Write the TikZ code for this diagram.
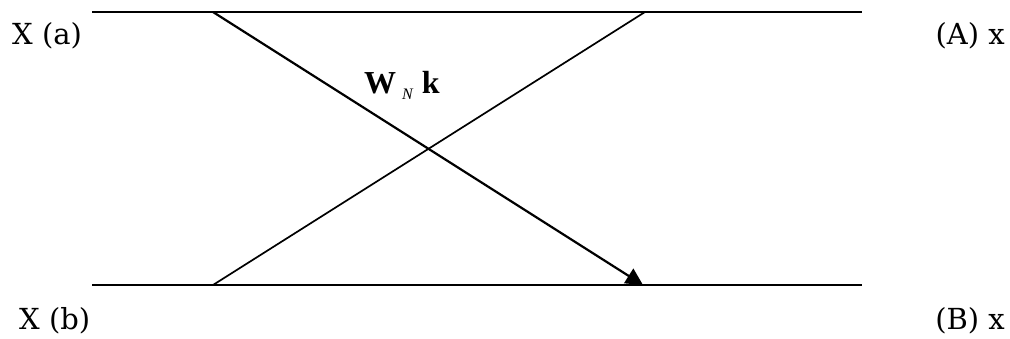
\documentclass[tikz,border=0pt]{standalone}
\usepackage{fontspec}
\setmainfont{DejaVu Serif}
\newfontfamily\timesfont{Liberation Serif}
\usetikzlibrary{arrows.meta}
\begin{document}
\begin{tikzpicture}[x=1pt,y=-1pt,
  line/.style={line width=2.2pt},
  lbl/.style={font=\fontsize{29}{29}\selectfont, inner sep=0pt}]
\useasboundingbox (0,0) rectangle (1010,339);
\coordinate (tl) at (92,12);
\coordinate (tr) at (862,12);
\coordinate (bl) at (92,285);
\coordinate (br) at (862,285);
\coordinate (a1) at (213,12);
\coordinate (a2) at (643,285);
\coordinate (b1) at (213,285);
\coordinate (b2) at (645,12);
\draw[line] (tl) -- (tr);
\draw[line] (bl) -- (br);
\draw[line,-{Triangle[length=17pt,width=17pt]}] (a1) -- (a2);
\draw[line width=1.7pt] (b1) -- (b2);
\node[lbl,anchor=base west] (xa) at (12,45) {X (a)};
\node[lbl,anchor=base east] (Ax) at (1005,45) {(A) x};
\node[lbl,anchor=base west] (xb) at (19,330) {X (b)};
\node[lbl,anchor=base east] (Bx) at (1005,330) {(B) x};
\node[inner sep=0pt,anchor=base west] (w) at (364,94) {\timesfont\fontsize{32}{32}\selectfont\bfseries W\raisebox{-0.4ex}{\fontsize{16}{16}\selectfont\mdseries\itshape\hspace{6pt}N}\hspace{9pt}k};
\end{tikzpicture}
\end{document}
